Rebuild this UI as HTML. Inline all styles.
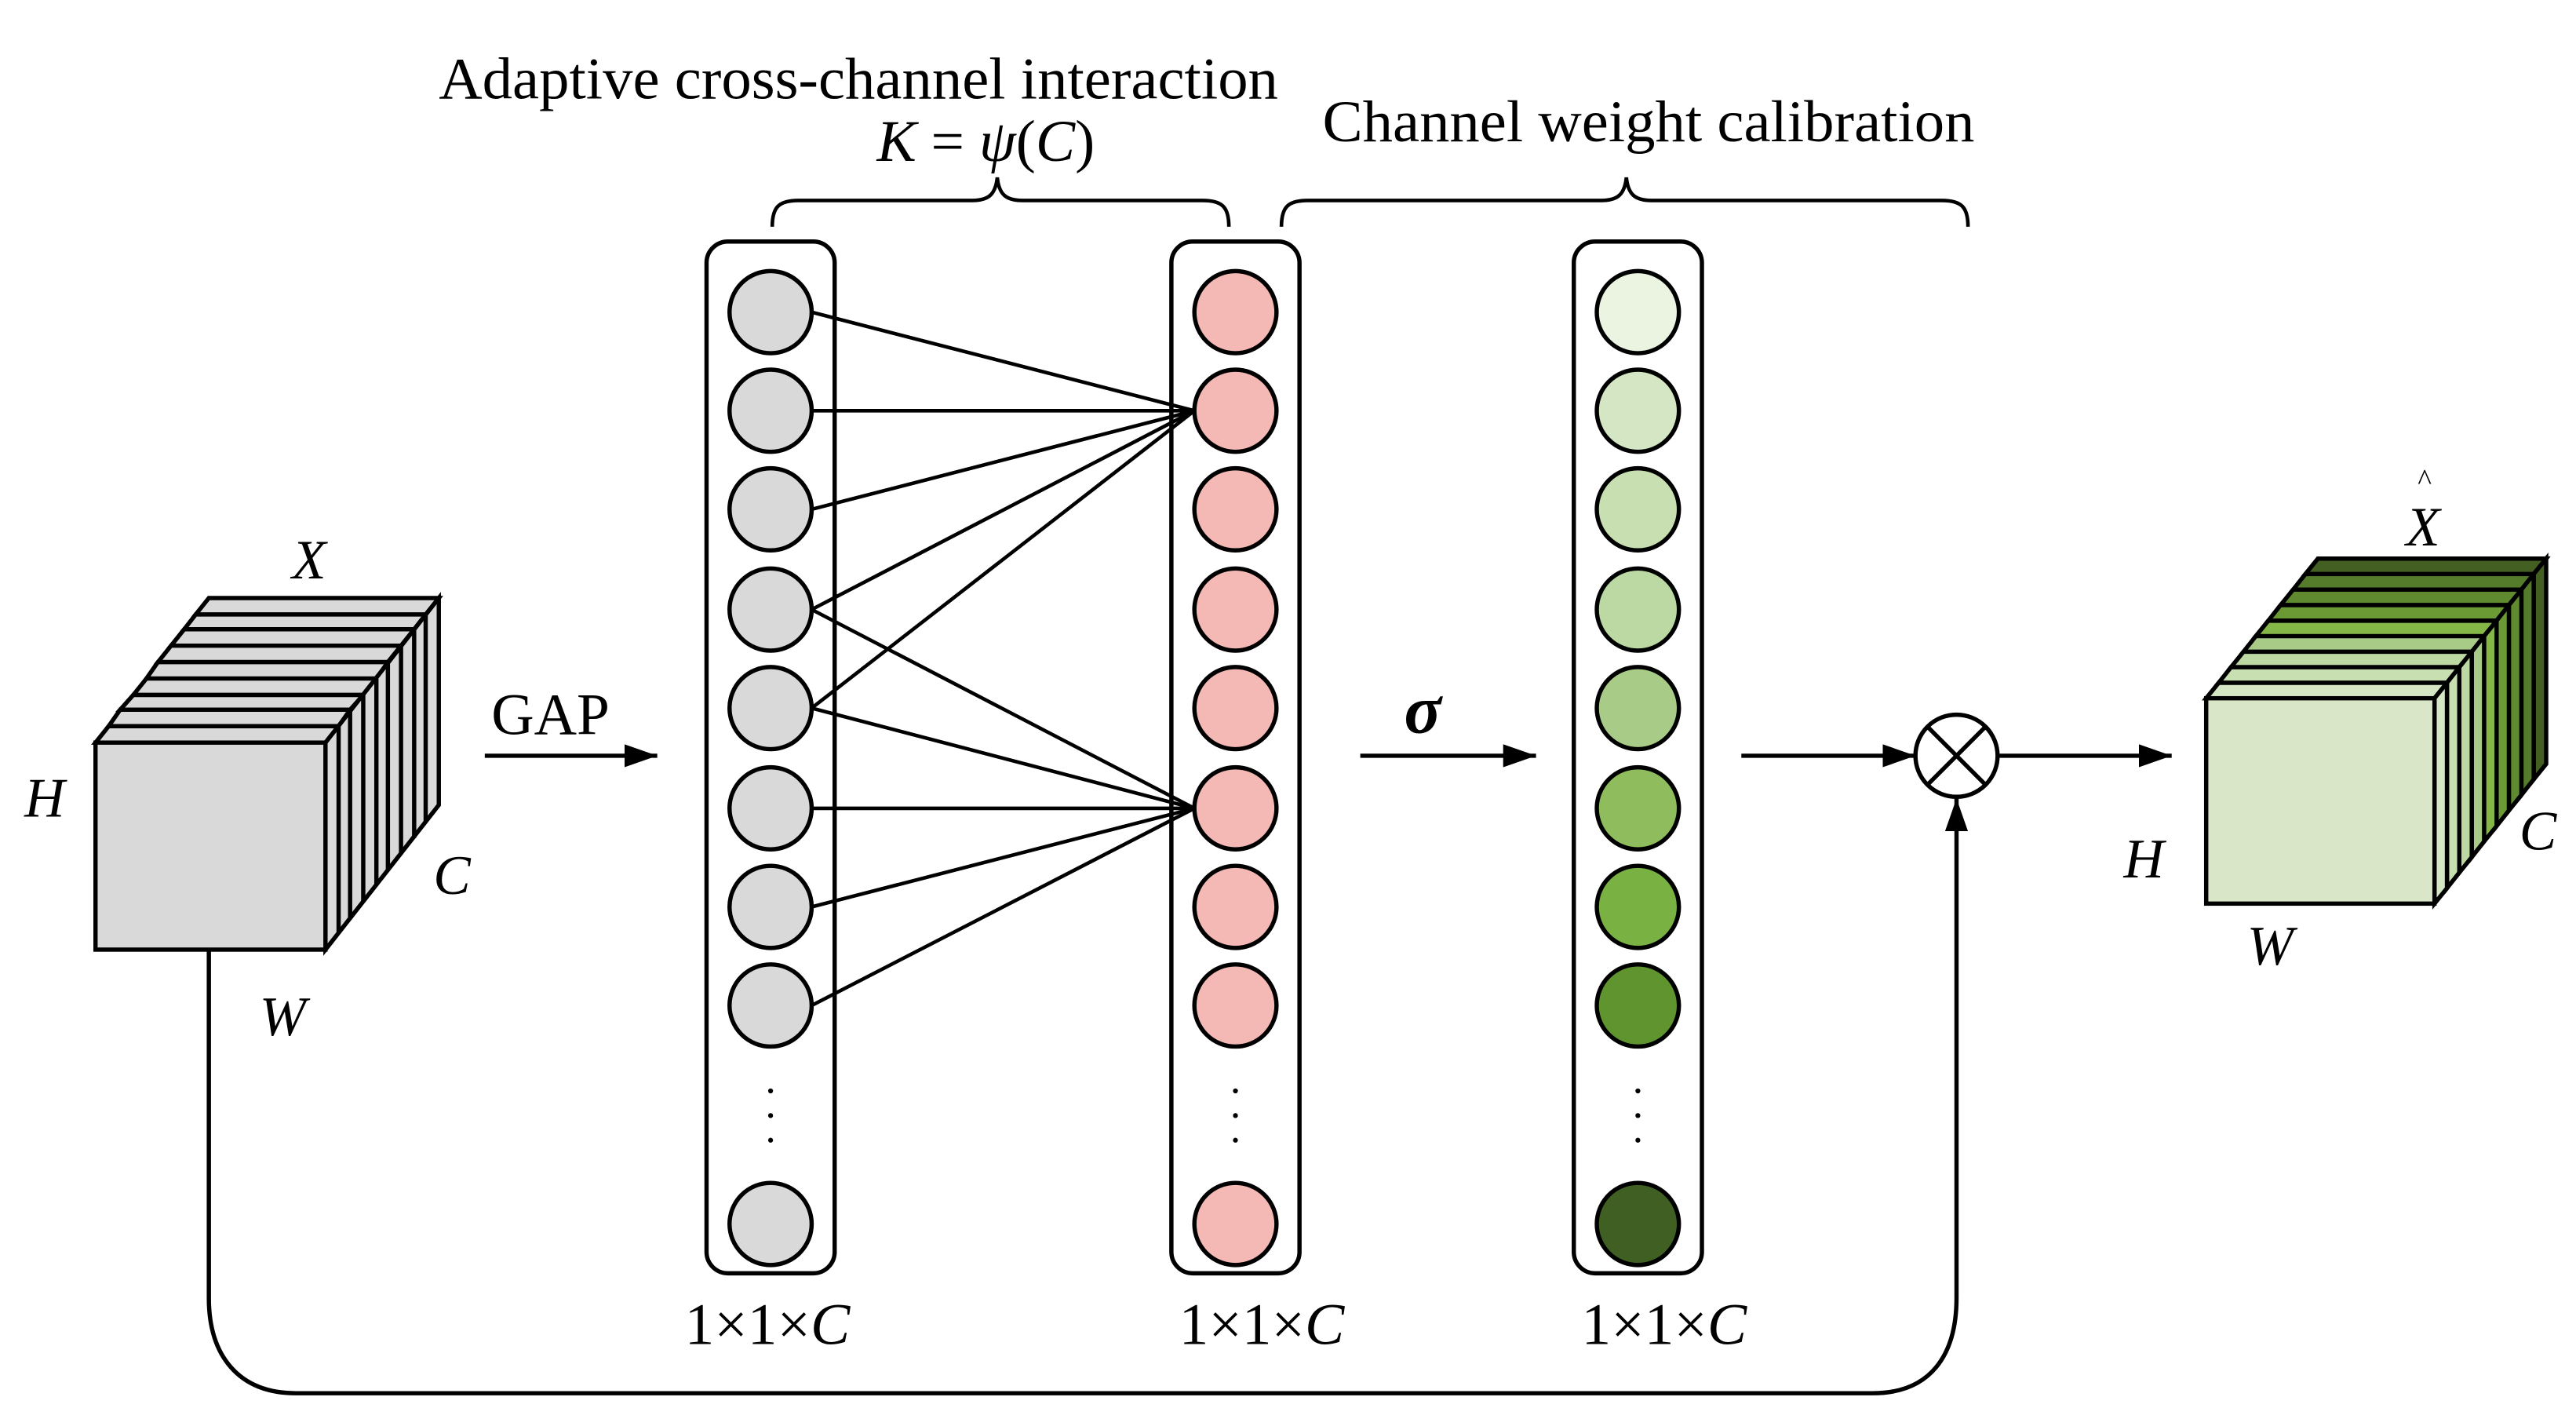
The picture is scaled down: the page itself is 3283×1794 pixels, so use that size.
<!DOCTYPE html>
<html><head><meta charset="utf-8"><style>
html,body{margin:0;padding:0;background:#fff;}
svg{display:block;}
text{font-family:"Liberation Serif",serif;fill:#000;}
.i{font-style:italic;}
</style></head><body>
<svg width="3283" height="1794" viewBox="0 0 1568 857" xmlns="http://www.w3.org/2000/svg">
<defs>
<marker id="ah" markerWidth="20" markerHeight="14" refX="20" refY="7" orient="auto" markerUnits="userSpaceOnUse" viewBox="0 0 20 14">
<path d="M0,0 L20,7 L0,14 z" fill="#000"/>
</marker>
</defs>
<g stroke="#000" stroke-width="2.6" fill="#d9d9d9">
<polygon points="127,364 267,364 259,374 119,374"/>
<polygon points="119,374 259,374 252,383 112,383"/>
<polygon points="112,383 252,383 244,393 104,393"/>
<polygon points="104,393 244,393 236,403 96,403"/>
<polygon points="96,403 236,403 229,413 89,413"/>
<polygon points="89,413 229,413 221,423 81,423"/>
<polygon points="81,423 221,423 213,432 73,432"/>
<polygon points="73,432 213,432 206,442 66,442"/>
<polygon points="66,442 206,442 198,452 58,452"/>
<polygon points="198,452 267,364 267,490 198,578"/>
<line x1="206" y1="442" x2="206" y2="568"/>
<line x1="213" y1="432" x2="213" y2="559"/>
<line x1="221" y1="423" x2="221" y2="549"/>
<line x1="229" y1="413" x2="229" y2="539"/>
<line x1="236" y1="403" x2="236" y2="530"/>
<line x1="244" y1="393" x2="244" y2="520"/>
<line x1="252" y1="383" x2="252" y2="510"/>
<line x1="259" y1="374" x2="259" y2="500"/>
<rect x="58" y="452" width="140" height="126"/>
</g>
<text x="188" y="352" class="i" font-size="34" text-anchor="middle">X</text>
<text x="27" y="497" class="i" font-size="34" text-anchor="middle">H</text>
<text x="275" y="544" class="i" font-size="34" text-anchor="middle">C</text>
<text x="172" y="630" class="i" font-size="34" text-anchor="middle">W</text>

<text x="335" y="447" font-size="36" text-anchor="middle">GAP</text>
<line x1="295" y1="460" x2="400" y2="460" stroke="#000" stroke-width="2.6" marker-end="url(#ah)"/>

<g stroke="#000" stroke-width="2.6" fill="none">
<rect x="430" y="147" width="78" height="628" rx="13"/>
<rect x="713" y="147" width="78" height="628" rx="13"/>
<rect x="958" y="147" width="78" height="628" rx="13"/>
</g>
<g stroke="#000" stroke-width="2.2">
<line x1="494" y1="190" x2="727" y2="250"/>
<line x1="494" y1="250" x2="727" y2="250"/>
<line x1="494" y1="310" x2="727" y2="250"/>
<line x1="494" y1="371" x2="727" y2="250"/>
<line x1="494" y1="431" x2="727" y2="250"/>
<line x1="494" y1="371" x2="727" y2="492"/>
<line x1="494" y1="431" x2="727" y2="492"/>
<line x1="494" y1="492" x2="727" y2="492"/>
<line x1="494" y1="552" x2="727" y2="492"/>
<line x1="494" y1="612" x2="727" y2="492"/>
</g>
<g stroke="#000" stroke-width="2.6">
<g fill="#d9d9d9">
<circle cx="469" cy="190" r="25"/><circle cx="469" cy="250" r="25"/><circle cx="469" cy="310" r="25"/><circle cx="469" cy="371" r="25"/>
<circle cx="469" cy="431" r="25"/><circle cx="469" cy="492" r="25"/><circle cx="469" cy="552" r="25"/><circle cx="469" cy="612" r="25"/>
<circle cx="469" cy="745" r="25"/>
</g>
<g fill="#f4b9b5">
<circle cx="752" cy="190" r="25"/><circle cx="752" cy="250" r="25"/><circle cx="752" cy="310" r="25"/><circle cx="752" cy="371" r="25"/>
<circle cx="752" cy="431" r="25"/><circle cx="752" cy="492" r="25"/><circle cx="752" cy="552" r="25"/><circle cx="752" cy="612" r="25"/>
<circle cx="752" cy="745" r="25"/>
</g>
<circle cx="997" cy="190" r="25" fill="#ebf3e1"/><circle cx="997" cy="250" r="25" fill="#d4e6c4"/>
<circle cx="997" cy="310" r="25" fill="#c8dfb1"/><circle cx="997" cy="371" r="25" fill="#bcd9a3"/>
<circle cx="997" cy="431" r="25" fill="#a8cc88"/><circle cx="997" cy="492" r="25" fill="#8fbd5d"/>
<circle cx="997" cy="552" r="25" fill="#79b142"/><circle cx="997" cy="612" r="25" fill="#5f942f"/>
<circle cx="997" cy="745" r="25" fill="#405f22"/>
</g>
<g fill="#000">
<circle cx="469" cy="664" r="1.5"/><circle cx="469" cy="679" r="1.5"/><circle cx="469" cy="694" r="1.5"/>
<circle cx="752" cy="664" r="1.5"/><circle cx="752" cy="679" r="1.5"/><circle cx="752" cy="694" r="1.5"/>
<circle cx="997" cy="664" r="1.5"/><circle cx="997" cy="679" r="1.5"/><circle cx="997" cy="694" r="1.5"/>
</g>
<text x="467" y="818" font-size="36" text-anchor="middle">1×1×<tspan class="i">C</tspan></text>
<text x="768" y="818" font-size="36" text-anchor="middle">1×1×<tspan class="i">C</tspan></text>
<text x="1013" y="818" font-size="36" text-anchor="middle">1×1×<tspan class="i">C</tspan></text>

<g stroke="#000" stroke-width="2.2" fill="none">
<path d="M470,138 C470,126 474,122 486,122 L592,122 C602,122 606,118 607,108 C608,118 612,122 622,122 L732,122 C744,122 748,126 748,138"/>
<path d="M780,138 C780,126 784,122 796,122 L975,122 C985,122 989,118 990,108 C991,118 995,122 1005,122 L1182,122 C1194,122 1198,126 1198,138"/>
</g>
<text x="267" y="60" font-size="36" textLength="511" lengthAdjust="spacingAndGlyphs">Adaptive cross-channel interaction</text>
<text x="600" y="98" font-size="36" text-anchor="middle"><tspan class="i">K</tspan> = <tspan class="i">ψ</tspan>(<tspan class="i">C</tspan>)</text>
<text x="805" y="86" font-size="36" textLength="397" lengthAdjust="spacingAndGlyphs">Channel weight calibration</text>

<text x="866" y="446" font-size="42" font-weight="bold" font-style="italic" text-anchor="middle">σ</text>
<line x1="828" y1="460" x2="935" y2="460" stroke="#000" stroke-width="2.6" marker-end="url(#ah)"/>
<line x1="1060" y1="460" x2="1166" y2="460" stroke="#000" stroke-width="2.6" marker-end="url(#ah)"/>
<line x1="1217" y1="460" x2="1322" y2="460" stroke="#000" stroke-width="2.6" marker-end="url(#ah)"/>
<g stroke="#000" stroke-width="2.6" fill="#fff">
<circle cx="1191" cy="460" r="25"/>
<line x1="1173" y1="442" x2="1209" y2="478"/><line x1="1209" y1="442" x2="1173" y2="478"/>
</g>
<path d="M127,578 L127,790 C127,825 145,848 180,848 L1140,848 C1175,848 1191,825 1191,790 L1191,486" stroke="#000" stroke-width="2.6" fill="none" marker-end="url(#ah)"/>

<g stroke="#000" stroke-width="2.6">
<polygon points="1411,340 1550,340 1542.4,349.4 1403.4,349.4" fill="#435f22"/>
<polygon points="1403.4,349.4 1542.4,349.4 1534.9,358.9 1395.9,358.9" fill="#547c2b"/>
<polygon points="1395.9,358.9 1534.9,358.9 1527.3,368.3 1388.3,368.3" fill="#5f8a30"/>
<polygon points="1388.3,368.3 1527.3,368.3 1519.8,377.8 1380.8,377.8" fill="#6b9a35"/>
<polygon points="1380.8,377.8 1519.8,377.8 1512.2,387.2 1373.2,387.2" fill="#84b648"/>
<polygon points="1373.2,387.2 1512.2,387.2 1504.7,396.7 1365.7,396.7" fill="#a8cc88"/>
<polygon points="1365.7,396.7 1504.7,396.7 1497.1,406.1 1358.1,406.1" fill="#bcd9a3"/>
<polygon points="1358.1,406.1 1497.1,406.1 1489.6,415.6 1350.6,415.6" fill="#c8dfb1"/>
<polygon points="1350.6,415.6 1489.6,415.6 1482,425 1343,425" fill="#d4e6c4"/>
<polygon points="1550,340 1550,465 1542.4,474.4 1542.4,349.4" fill="#435f22"/>
<polygon points="1542.4,349.4 1542.4,474.4 1534.9,483.9 1534.9,358.9" fill="#547c2b"/>
<polygon points="1534.9,358.9 1534.9,483.9 1527.3,493.3 1527.3,368.3" fill="#5f8a30"/>
<polygon points="1527.3,368.3 1527.3,493.3 1519.8,502.8 1519.8,377.8" fill="#6b9a35"/>
<polygon points="1519.8,377.8 1519.8,502.8 1512.2,512.2 1512.2,387.2" fill="#84b648"/>
<polygon points="1512.2,387.2 1512.2,512.2 1504.7,521.7 1504.7,396.7" fill="#a8cc88"/>
<polygon points="1504.7,396.7 1504.7,521.7 1497.1,531.1 1497.1,406.1" fill="#bcd9a3"/>
<polygon points="1497.1,406.1 1497.1,531.1 1489.6,540.6 1489.6,415.6" fill="#c8dfb1"/>
<polygon points="1489.6,415.6 1489.6,540.6 1482,550 1482,425" fill="#d4e6c4"/>
<rect x="1343" y="425" width="139" height="125" fill="#d9e6c7"/>
</g>
<text x="1475" y="332" class="i" font-size="34" text-anchor="middle">X</text>
<text x="1476" y="298" font-size="18" text-anchor="middle">^</text>
<text x="1305" y="534" class="i" font-size="34" text-anchor="middle">H</text>
<text x="1382" y="587" class="i" font-size="34" text-anchor="middle">W</text>
<text x="1545" y="517" class="i" font-size="34" text-anchor="middle">C</text>
</svg>
</body></html>
